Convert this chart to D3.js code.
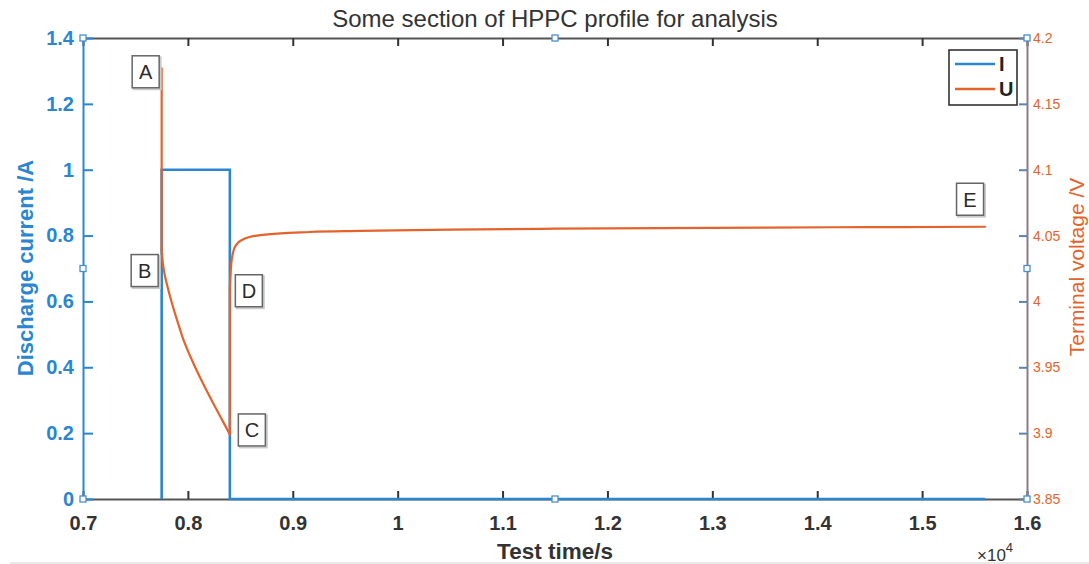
<!DOCTYPE html>
<html>
<head>
<meta charset="utf-8">
<script src="https://cdn.jsdelivr.net/npm/d3@7"></script>
<style>
  body { margin: 0; background: #fff; }
  svg { display: block; font-family: "Liberation Sans", Arial, sans-serif; }
</style>
</head>
<body>
<svg id="chart"></svg>
<script>
// current step (s, A)
const currentTime = [7750, 7750, 8400, 8400, 15600];
const currentVal = [0, 1, 1, 0, 0];

// terminal voltage (s, V)
const voltTime = [7750, 7750, 7760, 7775, 7800, 7850, 7900, 7953, 8000, 8050, 8115, 8200, 8300, 8400,
    8400, 8410, 8430, 8460, 8525, 8690, 9160, 9640, 10500, 11500, 12500, 13500, 14500, 15600];
const voltVal = [4.177, 4.039, 4.030, 4.022, 4.013, 3.998, 3.985, 3.972, 3.9625, 3.9535, 3.9425, 3.929, 3.914, 3.899,
    4.010, 4.025, 4.037, 4.043, 4.047, 4.0504, 4.0527, 4.0535, 4.0545, 4.0552, 4.0557, 4.0561, 4.0564, 4.0567];

// point labels: name, anchor time, anchor voltage
const pointNames = ["A", "B", "C", "D", "E"];
const pointTime = [7750, 7750, 8400, 8400, 15600];
const pointVolt = [4.177, 4.039, 3.899, 4.010, 4.0567];
const pointShift = [[-16, 4], [-17, 21], [22, -4], [19, 3], [-15, -27]];

const xTicks = [7000, 8000, 9000, 10000, 11000, 12000, 13000, 14000, 15000, 16000];
const leftTicks = [0, 0.2, 0.4, 0.6, 0.8, 1, 1.2, 1.4];
const rightTicks = [3.85, 3.9, 3.95, 4, 4.05, 4.1, 4.15, 4.2];

const width = 1089, height = 564;
const plotL = 83, plotR = 1027, plotT = 38, plotB = 499;
const blue = "#2a86d1", orange = "#e4632b";

const svg = d3.select("#chart").attr("width", width).attr("height", height);

const x = d3.scaleLinear().domain([7000, 16000]).range([plotL, plotR]);
const yI = d3.scaleLinear().domain([0, 1.4]).range([plotB, plotT]);
const yU = d3.scaleLinear().domain([3.85, 4.2]).range([plotB, plotT]);

// faint separator at bottom of figure
svg.append("line").attr("x1", 10).attr("x2", width).attr("y1", 563).attr("y2", 563)
    .attr("stroke", "#e2e2e2").attr("stroke-width", 1.5);

// top and bottom axes (ticks pointing inward)
const fmtX = d => d3.format("")(+(d / 1e4).toFixed(1));
const gBottom = svg.append("g").attr("transform", `translate(0,${plotB})`)
    .call(d3.axisBottom(x).tickValues(xTicks).tickSizeInner(-8).tickSizeOuter(0).tickFormat(fmtX));
gBottom.select(".domain").attr("stroke", "#555").attr("stroke-width", 2);
gBottom.selectAll(".tick line").attr("stroke", "#333").attr("stroke-width", 2);
gBottom.selectAll(".tick text").attr("font-size", 20).attr("font-weight", "bold").attr("fill", "#333")
    .attr("dy", null).attr("y", 31);

const gTop = svg.append("g").attr("transform", `translate(0,${plotT})`)
    .call(d3.axisTop(x).tickValues(xTicks).tickSizeInner(-8).tickSizeOuter(0).tickFormat(""));
gTop.select(".domain").attr("stroke", "#555").attr("stroke-width", 2);
gTop.selectAll(".tick line").attr("stroke", "#333").attr("stroke-width", 2);

// left axis (current)
const gLeft = svg.append("g").attr("transform", `translate(${plotL},0)`)
    .call(d3.axisLeft(yI).tickValues(leftTicks).tickSizeInner(-10).tickSizeOuter(0).tickPadding(9).tickFormat(d3.format("")));
gLeft.select(".domain").attr("stroke", blue).attr("stroke-width", 2);
gLeft.selectAll(".tick line").attr("stroke", blue).attr("stroke-width", 2);
gLeft.selectAll(".tick text").attr("font-size", 20).attr("font-weight", "bold").attr("fill", blue);

// right axis (voltage)
const gRight = svg.append("g").attr("transform", `translate(${plotR},0)`)
    .call(d3.axisRight(yU).tickValues(rightTicks).tickSizeInner(-8).tickSizeOuter(0).tickPadding(6).tickFormat(d3.format("")));
gRight.select(".domain").attr("stroke", "#8d7a84").attr("stroke-width", 2);
gRight.selectAll(".tick line").attr("stroke", "#5d84b0").attr("stroke-width", 2);
gRight.selectAll(".tick text").attr("font-size", 14).attr("fill", orange);

// current line
svg.append("path")
    .datum(d3.zip(currentTime, currentVal))
    .attr("d", d3.line().x(d => x(d[0])).y(d => yI(d[1])))
    .attr("fill", "none").attr("stroke", blue).attr("stroke-width", 2.6);

// voltage line: split at the instantaneous jumps, smooth in between
const voltPts = d3.zip(voltTime, voltVal);
let segs = [[voltPts[0]]];
for (let i = 1; i < voltPts.length; i++) {
    if (voltPts[i][0] === voltPts[i - 1][0]) {
        segs.push([voltPts[i - 1], voltPts[i]]);   // vertical jump
        segs.push([voltPts[i]]);
    } else {
        segs[segs.length - 1].push(voltPts[i]);
    }
}
segs = segs.filter(s => s.length > 1);
const smooth = d3.line().x(d => x(d[0])).y(d => yU(d[1])).curve(d3.curveMonotoneX);
svg.append("g").selectAll("path").data(segs).enter().append("path")
    .attr("d", s => s[0][0] === s[1][0] ? d3.line().x(d => x(d[0])).y(d => yU(d[1]))(s) : smooth(s))
    .attr("fill", "none").attr("stroke", orange).attr("stroke-width", 2.2)
    .attr("stroke-linecap", "round");

// selection handles
const handles = [[7000, 1.4], [11500, 1.4], [16000, 1.4], [7000, 0.7], [16000, 0.7], [7000, 0], [11500, 0], [16000, 0]];
svg.selectAll(".handle").data(handles).enter().append("rect")
    .attr("x", d => x(d[0]) - 3).attr("y", d => yI(d[1]) - 3)
    .attr("width", 6).attr("height", 6)
    .attr("fill", "#fff").attr("stroke", "#4a8fd0").attr("stroke-width", 1.3);

// point label boxes
const labels = svg.selectAll(".pt").data(pointNames).enter().append("g")
    .attr("transform", (d, i) => `translate(${x(pointTime[i]) + pointShift[i][0]},${yU(pointVolt[i]) + pointShift[i][1]})`);
labels.append("rect").attr("x", -12).attr("y", -15).attr("width", 27).attr("height", 32)
    .attr("fill", "none").attr("stroke", "#ccc").attr("stroke-width", 2);
labels.append("rect").attr("x", -13.5).attr("y", -16.5).attr("width", 27).attr("height", 32)
    .attr("fill", "#fff").attr("stroke", "#666").attr("stroke-width", 1.5);
labels.append("text").text(d => d).attr("text-anchor", "middle").attr("y", 7)
    .attr("font-size", 20).attr("fill", "#2b2b2b");

// legend
const lg = svg.append("g").attr("transform", "translate(949,50)");
lg.append("rect").attr("width", 68).attr("height", 55).attr("fill", "#fff").attr("stroke", "#333").attr("stroke-width", 1.6);
const legendNames = ["I", "U"];
const legendColors = [blue, orange];
legendNames.forEach((n, i) => {
    lg.append("line").attr("x1", 6).attr("x2", 46).attr("y1", 14 + i * 25).attr("y2", 14 + i * 25)
        .attr("stroke", legendColors[i]).attr("stroke-width", 2.4);
    lg.append("text").attr("x", 50).attr("y", 21 + i * 25).text(n)
        .attr("font-size", 20).attr("font-weight", "bold").attr("fill", "#222");
});

// titles
svg.append("text").attr("x", 555).attr("y", 27).attr("text-anchor", "middle")
    .attr("font-size", 24).attr("fill", "#333").text("Some section of HPPC profile for analysis");
svg.append("text").attr("x", 555).attr("y", 559).attr("text-anchor", "middle")
    .attr("font-size", 22.5).attr("font-weight", "bold").attr("fill", "#333").text("Test time/s");
svg.append("text").attr("transform", "translate(33,268) rotate(-90)").attr("text-anchor", "middle")
    .attr("font-size", 22).attr("font-weight", "bold").attr("fill", blue).text("Discharge current /A");
svg.append("text").attr("transform", "translate(1084,267) rotate(-90)").attr("text-anchor", "middle")
    .attr("font-size", 21).attr("fill", orange).text("Terminal voltage /V");

const exp = svg.append("text").attr("x", 977).attr("y", 561).attr("font-size", 17).attr("fill", "#333");
exp.append("tspan").text("×10");
exp.append("tspan").attr("font-size", 13).attr("dy", -9).text("4");
</script>
</body>
</html>
